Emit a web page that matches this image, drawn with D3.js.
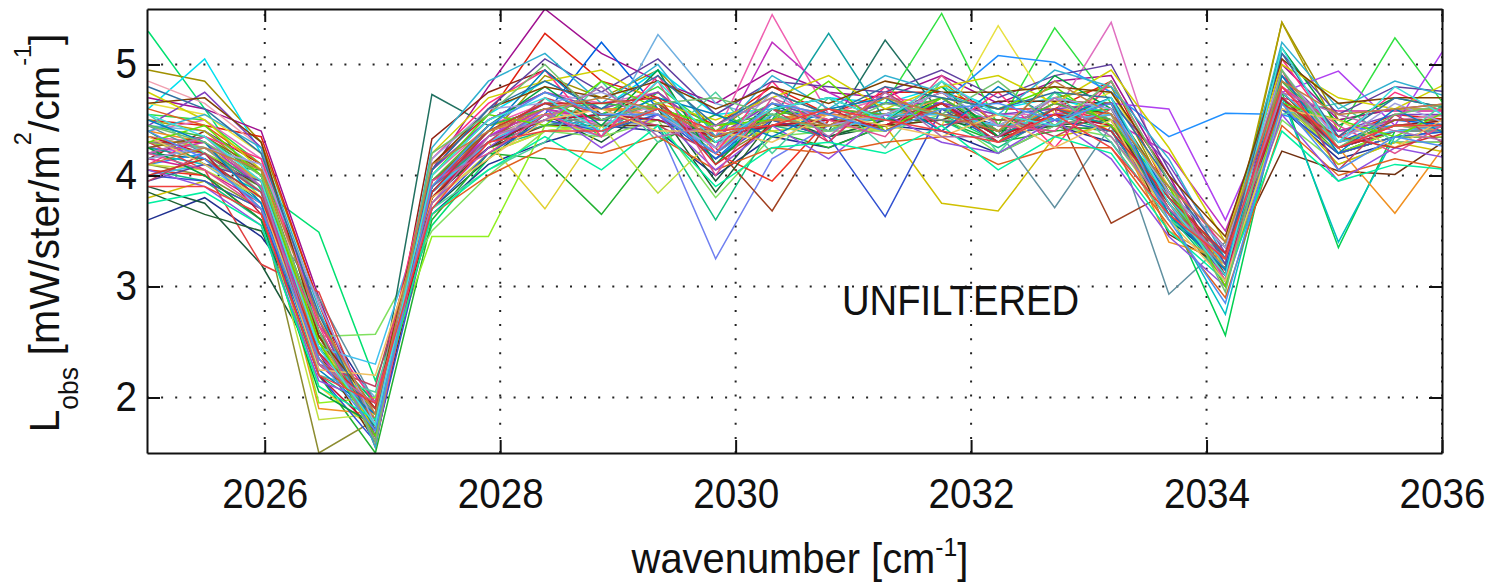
<!DOCTYPE html>
<html>
<head>
<meta charset="utf-8">
<title>L_obs unfiltered spectra</title>
<script src="https://cdn.jsdelivr.net/npm/d3@7"></script>
<style>
  body { margin: 0; background: #fff; }
  text { font-family: "Liberation Sans", Arial, Helvetica, sans-serif; fill: #111; }
</style>
</head>
<body>
<div id="chart"></div>
<script>
// channel wavenumbers [cm-1]
var wavenumber = [2025.01, 2025.49, 2025.97, 2026.46, 2026.94, 2027.42, 2027.90, 2028.38,
  2028.86, 2029.34, 2029.83, 2030.31, 2030.79, 2031.27, 2031.75, 2032.23,
  2032.71, 2033.19, 2033.68, 2034.16, 2034.64, 2035.12, 2035.60, 2036.08];

// one row per observed spectrum, mW/ster/m2/cm-1
var spectra = [
  [5.30,4.60,3.87,3.49,2.15,3.55,4.15,4.70,4.35,4.75,4.25,4.65,4.40,4.70,4.55,4.30,4.75,4.50,3.70,3.05,4.80,4.30,4.45,4.40],
  [4.95,4.85,4.30,2.85,1.70,3.80,4.35,4.90,4.70,4.95,4.40,4.75,4.55,4.50,4.85,4.45,4.70,4.80,3.80,3.10,5.38,4.50,4.60,4.60],
  [4.60,5.05,4.20,2.60,1.75,4.00,4.55,4.85,4.60,4.95,4.55,4.60,4.70,4.65,4.80,4.60,4.70,4.55,3.90,3.05,4.85,4.35,4.50,4.55],
  [3.60,3.80,3.45,2.75,1.95,3.65,4.10,4.30,4.45,4.40,4.00,4.35,4.25,4.45,4.40,4.20,4.45,4.30,3.60,3.20,4.60,4.15,4.30,4.30],
  [3.90,3.75,3.20,2.30,1.90,3.70,4.15,4.55,4.30,4.65,3.95,4.55,4.35,4.45,4.70,4.35,4.45,4.40,3.65,3.25,4.65,4.20,4.35,4.35],
  [4.50,4.45,4.35,2.85,1.55,4.10,4.55,5.28,4.85,4.70,4.45,4.80,4.55,4.75,4.75,4.60,4.60,4.85,3.85,3.00,4.90,4.35,4.55,4.50],
  [4.70,4.60,4.40,2.90,1.60,4.05,4.80,5.50,5.10,4.85,4.65,4.95,4.75,4.70,4.90,4.65,4.85,4.90,4.00,3.10,5.00,4.50,4.60,4.65],
  [4.40,4.10,4.05,2.20,1.50,3.60,4.20,4.15,3.65,4.30,4.55,4.40,4.25,4.45,4.50,4.30,4.40,4.45,3.70,3.20,4.70,4.20,4.40,4.40],
  [4.20,4.30,3.80,2.10,1.70,3.85,4.30,3.70,4.45,4.65,4.25,4.50,4.50,4.40,4.65,4.30,4.60,4.45,3.75,3.10,4.75,4.25,4.40,4.45],
  [4.10,4.00,3.70,1.50,1.80,3.85,4.35,4.55,4.40,4.60,4.15,4.45,4.45,4.45,4.60,4.40,4.45,4.55,3.80,3.15,4.70,4.25,4.40,4.40],
  [4.00,4.15,3.90,2.55,2.57,3.50,4.00,4.40,4.35,4.50,3.80,4.35,4.40,4.40,4.55,4.20,4.45,4.35,3.65,3.20,4.50,4.10,4.30,4.30],
  [4.35,4.30,3.95,2.35,1.90,4.00,4.45,4.65,4.60,4.75,4.35,5.45,4.55,4.55,4.75,4.40,4.65,4.50,3.75,3.05,4.80,4.30,4.45,4.50],
  [4.25,4.35,4.00,2.50,1.95,3.95,4.40,4.55,5.20,4.60,4.15,4.60,4.50,4.65,4.60,4.45,4.50,4.65,3.80,3.20,4.70,4.30,4.50,4.45],
  [4.20,4.15,3.75,2.40,1.85,4.73,4.45,4.60,4.45,4.60,4.25,4.65,4.40,5.22,4.55,4.40,4.60,4.45,3.70,3.15,4.65,4.20,4.40,4.40],
  [4.15,4.40,4.10,2.70,1.65,4.33,4.75,4.95,4.55,4.75,4.35,4.50,4.60,4.55,4.75,4.40,4.65,4.55,3.90,3.10,4.75,4.30,4.45,4.50],
  [4.45,4.40,4.05,2.55,2.00,3.90,4.30,4.50,4.35,5.27,4.65,4.50,4.55,4.45,4.65,4.35,4.55,4.50,3.80,3.20,4.70,4.25,4.40,4.45],
  [4.30,4.25,3.90,2.45,1.80,3.85,4.30,4.45,4.50,4.45,3.25,4.15,4.45,4.45,4.65,4.30,4.55,4.45,3.70,3.10,4.70,4.25,4.40,4.40],
  [4.05,3.95,3.60,2.20,1.85,3.80,4.25,4.40,4.45,4.45,3.60,4.45,4.35,4.50,4.50,4.25,4.55,4.40,3.65,3.05,4.60,4.20,4.35,4.35],
  [4.55,4.50,4.10,2.70,1.70,4.00,4.50,4.75,4.55,4.80,4.40,4.65,4.50,4.65,5.46,4.45,5.33,4.65,3.85,3.05,4.85,4.40,5.24,4.55],
  [4.65,4.55,4.20,2.75,1.75,4.05,4.50,4.75,4.60,4.75,4.35,4.65,4.55,4.70,4.45,5.35,4.55,4.75,3.90,3.15,4.90,4.40,4.50,4.55],
  [3.80,3.95,3.70,2.30,1.90,3.75,4.20,4.40,4.45,4.50,4.30,4.40,4.45,4.45,3.75,3.68,4.35,4.45,3.75,3.20,4.65,4.10,4.30,4.20],
  [4.45,4.20,3.70,2.90,1.95,3.85,4.35,4.50,4.55,4.55,4.35,4.45,4.50,4.50,4.65,4.40,3.71,4.45,2.93,3.40,4.60,4.20,4.35,4.35],
  [4.30,4.30,3.95,2.55,1.80,3.90,4.35,4.60,4.50,4.65,4.25,3.68,4.50,4.45,4.65,4.35,4.60,3.57,3.85,3.20,4.70,4.25,4.40,4.45],
  [4.40,4.50,4.15,2.70,1.65,4.05,4.50,4.75,4.65,4.75,4.35,4.65,4.55,4.70,4.65,4.55,4.55,5.38,3.80,3.05,4.85,4.35,4.50,4.55],
  [4.10,4.20,3.85,2.40,1.90,3.90,4.30,4.50,4.55,4.55,4.30,4.45,4.50,4.50,4.65,5.08,5.02,4.75,4.35,4.56,4.55,4.40,4.45,4.40],
  [4.35,4.25,3.95,2.50,1.95,3.95,4.40,4.65,4.50,4.65,4.30,4.60,4.45,4.60,4.60,4.50,4.55,4.60,3.70,2.56,4.75,3.35,4.40,4.40],
  [4.50,4.40,4.00,2.60,1.80,3.95,4.40,4.55,4.60,4.60,4.40,4.50,4.55,4.50,4.65,4.40,4.65,4.50,3.80,3.20,5.38,4.40,4.50,4.50],
  [4.25,4.20,3.95,2.55,1.80,3.95,4.35,4.65,4.45,4.65,4.30,4.60,4.45,4.60,4.55,4.50,4.55,4.65,4.60,3.60,4.75,4.94,4.45,5.24],
  [4.15,4.05,3.75,2.30,1.85,3.85,4.25,4.55,4.40,4.60,4.20,4.55,4.40,4.55,4.55,4.45,4.45,4.55,3.75,3.10,4.70,4.58,4.58,4.58],
  [4.30,4.20,3.90,2.40,1.60,3.80,4.25,4.45,4.45,4.45,4.40,4.45,4.45,4.45,4.50,4.67,4.67,4.65,3.47,3.17,4.22,4.04,4.01,4.35],
  [4.20,4.10,3.85,2.40,1.75,3.85,4.30,4.60,4.40,4.60,4.15,4.55,4.40,4.60,4.50,4.45,4.45,4.55,3.65,2.75,4.70,3.40,4.35,4.40],
  [4.40,4.30,3.95,1.90,1.85,3.95,4.45,4.55,4.60,4.60,4.45,4.50,4.60,4.55,4.70,4.40,4.60,4.55,3.40,3.25,4.65,4.25,3.66,4.35],
  [4.05,4.00,3.60,2.55,1.75,3.80,4.25,4.55,4.40,4.60,4.20,3.95,4.50,4.45,4.65,4.35,4.55,4.50,3.75,3.10,4.75,4.25,4.45,4.45],
  [4.30,4.20,3.95,1.95,2.00,3.45,3.45,4.45,4.40,4.55,4.25,4.55,4.40,4.55,4.55,4.45,4.45,4.55,3.70,3.15,4.65,4.20,4.40,4.40],
  [4.15,4.25,3.90,2.45,1.85,3.90,4.30,4.45,4.55,4.50,4.30,4.45,4.50,4.50,4.65,4.35,4.60,4.45,3.70,3.10,4.70,4.25,4.40,4.40],
  [4.85,4.65,4.25,2.40,1.80,3.85,4.30,4.60,4.45,4.65,4.25,4.60,4.45,4.60,4.55,4.45,4.50,4.55,3.75,3.15,4.70,4.30,4.40,4.45],
  [4.30,4.05,3.20,2.95,1.70,3.90,4.40,4.55,4.60,4.55,4.40,4.50,4.55,4.50,4.65,4.35,4.60,4.50,3.80,3.15,4.70,4.30,4.45,4.45],
  [3.85,3.65,3.50,2.45,1.80,3.80,4.25,4.55,4.40,4.60,3.85,4.50,4.35,4.50,4.50,4.40,4.45,4.50,3.70,3.15,4.65,4.20,4.35,4.35],
  [4.45,4.75,4.25,2.70,1.65,4.05,4.50,4.75,4.60,4.75,4.35,4.65,4.50,4.65,4.65,4.55,4.60,4.65,4.10,3.30,4.90,4.40,4.55,4.55],
  [4.10,4.05,3.80,1.80,1.85,3.75,4.20,4.40,4.45,3.84,4.35,4.40,4.45,4.40,4.60,4.30,4.50,4.40,3.70,3.15,4.65,4.20,4.35,4.35],
  [4.00,3.95,3.70,2.20,1.60,3.70,4.20,4.50,4.40,4.55,4.15,4.50,4.35,3.63,4.60,4.30,4.50,4.40,3.70,3.10,4.60,4.20,4.35,4.40],
  [4.35,4.25,3.95,2.50,1.80,3.95,4.40,4.55,4.60,4.55,4.40,4.50,4.55,4.50,4.70,4.40,4.65,4.50,3.50,3.20,4.70,4.30,4.45,4.40],
  [4.20,4.30,3.90,2.40,1.75,3.90,4.35,4.60,4.50,4.65,4.25,5.20,4.75,4.50,4.65,4.40,4.65,4.50,4.20,3.50,4.80,4.40,4.50,4.50],
  [4.25,4.15,3.80,2.35,1.80,3.85,4.30,4.50,4.55,4.50,4.35,4.50,5.28,4.50,4.65,4.35,4.60,4.45,3.75,3.15,4.70,4.25,4.40,4.40],
  [4.25,4.35,4.05,2.55,1.75,3.95,4.40,4.65,4.50,4.65,4.30,4.60,4.45,4.60,4.55,4.50,4.50,4.65,3.85,3.25,4.75,4.25,4.50,4.50],
  [4.45,4.35,4.00,2.60,1.70,3.95,4.45,4.60,4.65,4.60,4.45,4.55,4.60,4.55,4.70,4.40,4.65,4.50,3.80,3.10,4.85,4.30,4.45,4.45],
  [4.30,4.25,3.85,2.35,1.85,3.85,4.30,4.55,4.45,4.60,4.20,4.55,4.40,4.55,4.50,4.45,4.45,4.55,3.75,3.15,4.65,4.25,4.40,4.40],
  [4.35,4.20,3.65,2.20,1.70,3.80,4.30,4.50,4.55,4.50,4.35,4.45,4.50,4.45,4.65,4.35,4.55,4.45,3.75,3.10,4.70,4.25,4.40,4.45],
  [4.00,4.10,3.75,2.45,2.30,3.85,4.30,4.55,4.40,4.60,4.20,4.55,4.40,4.55,4.55,4.45,4.50,4.55,3.80,3.20,4.75,4.30,4.40,4.45],
  [4.10,4.35,4.15,2.65,1.95,4.15,4.65,4.95,4.35,4.90,4.20,4.85,4.30,4.80,4.40,4.75,4.25,4.85,3.95,3.35,5.05,4.35,4.75,4.55],
  [4.55,4.20,3.85,2.20,2.05,3.70,4.05,4.30,4.85,4.30,4.75,4.20,4.70,4.25,4.85,4.20,4.75,4.30,3.60,3.30,4.55,4.65,4.30,4.70],
  [3.95,4.10,3.95,2.60,1.65,4.05,4.60,5.05,4.75,5.05,4.55,4.85,4.80,4.75,4.95,4.70,4.90,5.00,4.05,3.20,5.10,4.55,4.80,4.75],
  [4.60,4.45,4.10,2.35,1.80,3.65,4.00,4.25,4.20,4.35,4.05,4.25,4.20,4.30,4.35,4.10,4.25,4.25,3.55,2.90,4.45,4.00,4.15,4.05],
  [4.25,4.00,3.60,2.05,1.75,3.90,4.45,4.80,4.45,4.95,4.10,4.60,4.70,4.50,4.80,4.35,4.90,4.60,3.85,3.35,5.15,4.45,4.70,4.60],
  [4.75,4.50,4.05,2.50,1.70,4.20,4.70,4.85,4.95,4.65,4.50,4.70,4.90,4.60,4.80,4.90,4.65,4.95,4.25,3.40,5.00,4.70,4.60,4.85],
  [4.05,3.90,3.55,2.15,1.95,3.75,4.25,4.60,4.25,4.55,4.05,4.45,4.15,4.55,4.30,4.20,4.50,4.15,3.45,3.00,4.55,3.95,4.25,4.15],
  [4.40,4.55,4.25,2.80,1.55,4.25,4.85,5.10,4.65,5.00,4.35,4.90,4.60,4.90,4.75,4.55,4.95,4.80,4.15,3.25,5.20,4.60,4.85,4.70],
  [3.95,4.20,3.85,2.30,2.10,3.95,4.30,4.70,4.55,4.45,4.20,4.60,4.30,4.75,4.45,4.55,4.35,4.60,3.70,3.30,4.95,4.05,4.55,4.25],
  [4.30,4.45,4.00,2.50,1.65,4.00,4.55,4.45,4.85,4.60,4.45,4.50,4.85,4.40,4.70,4.60,4.80,4.45,3.90,3.00,4.65,4.50,4.35,4.60],
  [4.50,4.30,3.75,2.25,1.85,3.85,4.40,4.95,4.50,4.70,4.55,4.35,4.60,4.70,4.40,4.80,4.50,4.70,3.65,3.15,4.90,4.20,4.60,4.35],
  [4.20,4.05,3.70,2.65,1.60,3.95,4.20,4.55,4.35,4.85,4.00,4.70,4.50,4.35,4.90,4.45,4.40,4.85,3.95,3.05,4.80,4.45,4.20,4.50],
  [4.65,4.70,4.30,2.55,1.90,4.10,4.60,4.80,4.70,4.85,4.60,4.80,4.65,4.85,4.75,4.75,4.80,4.75,4.00,3.45,5.05,4.65,4.70,4.70],
  [3.75,3.85,3.55,2.10,1.80,3.65,4.05,4.35,4.05,4.45,3.90,4.25,4.30,4.20,4.45,4.05,4.35,4.20,3.50,3.05,4.40,3.95,4.10,4.05],
  [4.15,4.25,4.10,2.85,1.75,4.15,4.60,4.65,4.75,4.55,4.25,4.75,4.45,4.55,4.75,4.45,4.70,4.60,3.85,3.35,4.95,4.30,4.65,4.45],
  [4.35,4.10,3.80,2.25,2.20,3.80,4.15,4.50,4.60,4.40,4.40,4.30,4.55,4.45,4.35,4.55,4.25,4.50,3.60,3.05,4.60,4.50,4.25,4.55],
  [4.80,4.60,4.20,2.75,1.70,4.05,4.60,4.85,4.60,4.90,4.45,4.75,4.55,4.80,4.70,4.60,4.75,4.70,3.95,3.25,5.10,4.35,4.70,4.60],
  [4.00,4.15,3.80,2.40,1.90,3.85,4.40,4.65,4.65,4.70,4.10,4.45,4.60,4.40,4.65,4.30,4.60,4.40,3.80,3.30,4.65,4.35,4.25,4.40],
  [4.45,4.30,4.00,2.60,1.60,4.20,4.55,5.00,4.50,4.65,4.70,4.55,4.40,4.65,4.55,4.85,4.45,4.85,3.95,2.95,4.95,4.25,4.55,4.65],
  [4.20,4.35,3.90,2.30,1.95,3.75,4.35,4.50,4.80,4.35,4.45,4.70,4.35,4.75,4.35,4.35,4.70,4.35,3.70,3.25,4.75,4.55,4.40,4.30],
  [4.55,4.35,3.95,2.45,1.75,4.00,4.50,4.70,4.40,4.85,4.30,4.60,4.70,4.50,4.85,4.55,4.45,4.70,3.75,3.10,5.15,4.30,4.80,4.50],
  [4.10,4.25,4.05,2.70,1.85,4.10,4.40,4.60,4.70,4.60,4.35,4.50,4.45,4.70,4.55,4.40,4.85,4.55,3.90,3.40,4.85,4.55,4.60,4.65],
  [4.40,4.15,3.70,2.35,1.70,3.90,4.45,4.75,4.55,4.55,4.20,4.65,4.55,4.40,4.60,4.65,4.50,4.65,3.60,2.85,4.65,4.05,4.35,4.25],
  [3.90,3.90,3.65,2.20,1.95,3.70,4.30,4.40,4.40,4.60,4.40,4.45,4.60,4.50,4.40,4.30,4.55,4.25,3.65,3.25,4.80,4.25,4.45,4.45]
];

var lineColors = ["#00e070", "#a09000", "#00e0f0", "#203090", "#1a5a3a", "#e02010", "#a01090",
  "#20b030", "#e0d030", "#8c8c30", "#80e060", "#f060b0", "#0060e0", "#207060", "#902010",
  "#70b0e0", "#7080f0", "#10c080", "#30e040", "#e8e040", "#d0c000", "#6090a0", "#a04020",
  "#e070c0", "#2090ff", "#00d050", "#b0a000", "#b040f0", "#d02090", "#703010", "#00c0c0",
  "#f09020", "#f03020", "#90f020", "#30a070", "#f0a0b0", "#e04040", "#206030", "#8040c0",
  "#c0e040", "#3050d0", "#e0a040", "#c030c0", "#10a0a0", "#906020", "#40c040", "#909090",
  "#c01030", "#40c0f0", "#ff3080", "#50d0a0", "#6040a0", "#e06020", "#00a040", "#d0d000",
  "#9050e0", "#30b0d0", "#c04060", "#60e000", "#0080c0", "#e05090", "#804000", "#00f0a0",
  "#a0a0e0", "#f0c060", "#3070a0", "#d03030", "#70c070", "#b070b0", "#40e0e0", "#c08040",
  "#5090f0", "#f04040"];

var xTickValues = [2026, 2028, 2030, 2032, 2034, 2036];
var yTickValues = [2, 3, 4, 5];

var svgWidth = 1493, svgHeight = 584;
var plotLeft = 147, plotRight = 1442, plotTop = 9, plotBottom = 453;
var tickLen = 13;

var svg = d3.select("#chart").append("svg")
  .attr("width", svgWidth).attr("height", svgHeight);

var x = d3.scaleLinear().domain([2025, 2036]).range([plotLeft, plotRight]);
var y = d3.scaleLinear().domain([1.5, 5.5]).range([plotBottom, plotTop]);

svg.append("clipPath").attr("id", "plotclip")
  .append("rect").attr("x", plotLeft).attr("y", plotTop)
  .attr("width", plotRight - plotLeft).attr("height", plotBottom - plotTop);

// dotted grid
var grid = svg.append("g");
grid.selectAll("line.gx").data(xTickValues).enter().append("line")
  .attr("x1", function(d) { return x(d); }).attr("x2", function(d) { return x(d); })
  .attr("y1", plotBottom).attr("y2", plotTop);
grid.selectAll("line.gy").data(yTickValues).enter().append("line")
  .attr("x1", plotLeft).attr("x2", plotRight)
  .attr("y1", function(d) { return y(d); }).attr("y2", function(d) { return y(d); });
grid.selectAll("line").attr("stroke", "#222").attr("stroke-width", 2)
  .attr("stroke-dasharray", "2,12.1");

// spectra
var line = d3.line()
  .x(function(d, i) { return x(wavenumber[i]); })
  .y(function(d) { return y(d); });

svg.append("g").attr("clip-path", "url(#plotclip)")
  .selectAll("path").data(spectra).enter().append("path")
  .attr("d", line)
  .attr("fill", "none")
  .attr("stroke", function(d, i) { return lineColors[i % lineColors.length]; })
  .attr("stroke-width", 1.5)
  .attr("stroke-linejoin", "miter");

// axes, ticks pointing inward on all four sides
svg.append("g").attr("transform", "translate(0," + plotBottom + ")")
  .call(d3.axisBottom(x).tickValues(xTickValues).tickFormat(d3.format("d"))
    .tickSize(-tickLen).tickSizeOuter(0).tickPadding(25));
svg.append("g").attr("transform", "translate(" + plotLeft + ",0)")
  .call(d3.axisLeft(y).tickValues(yTickValues).tickFormat(d3.format("d"))
    .tickSize(-tickLen).tickSizeOuter(0).tickPadding(10));
svg.append("g").attr("transform", "translate(0," + plotTop + ")")
  .call(d3.axisTop(x).tickValues(xTickValues).tickFormat("").tickSize(-tickLen).tickSizeOuter(0));
svg.append("g").attr("transform", "translate(" + plotRight + ",0)")
  .call(d3.axisRight(y).tickValues(yTickValues).tickFormat("").tickSize(-tickLen).tickSizeOuter(0));

svg.selectAll(".domain").attr("stroke", "#111").attr("stroke-width", 2);
svg.selectAll(".tick line").attr("stroke", "#111").attr("stroke-width", 2);
svg.selectAll(".tick text").attr("font-size", 42).attr("fill", "#111")
  .attr("font-family", "Liberation Sans, Arial, sans-serif");

// the original font is narrower than Liberation Sans
function squeeze(sel, factor) {
  sel.each(function() {
    var w = this.getComputedTextLength();
    d3.select(this).attr("textLength", w * factor).attr("lengthAdjust", "spacingAndGlyphs");
  });
}
squeeze(svg.selectAll(".tick text"), 0.92);

// x label
var xl = svg.append("text").attr("x", 800).attr("y", 573)
  .attr("text-anchor", "middle").attr("font-size", 42);
xl.append("tspan").text("wavenumber [cm");
xl.append("tspan").attr("font-size", 26).attr("dy", -17).text("-1");
xl.append("tspan").attr("dy", 17).text("]");
squeeze(xl, 0.95);

// y label
var yl = svg.append("text").attr("transform", "translate(59,233) rotate(-90)")
  .attr("text-anchor", "middle").attr("font-size", 42);
yl.append("tspan").text("L");
yl.append("tspan").attr("font-size", 27).attr("dy", 19).text("obs");
yl.append("tspan").attr("dy", -19).text(" [mW/ster/m");
yl.append("tspan").attr("font-size", 24).attr("dy", -28).text("2");
yl.append("tspan").attr("dy", 28).text("/cm");
yl.append("tspan").attr("font-size", 24).attr("dy", -28).text("-1");
yl.append("tspan").attr("dy", 28).text("]");
squeeze(yl, 0.98);

// annotation
var note = svg.append("text").attr("x", 842).attr("y", 315)
  .attr("font-size", 42).text("UNFILTERED");
squeeze(note, 0.91);
</script>
</body>
</html>
